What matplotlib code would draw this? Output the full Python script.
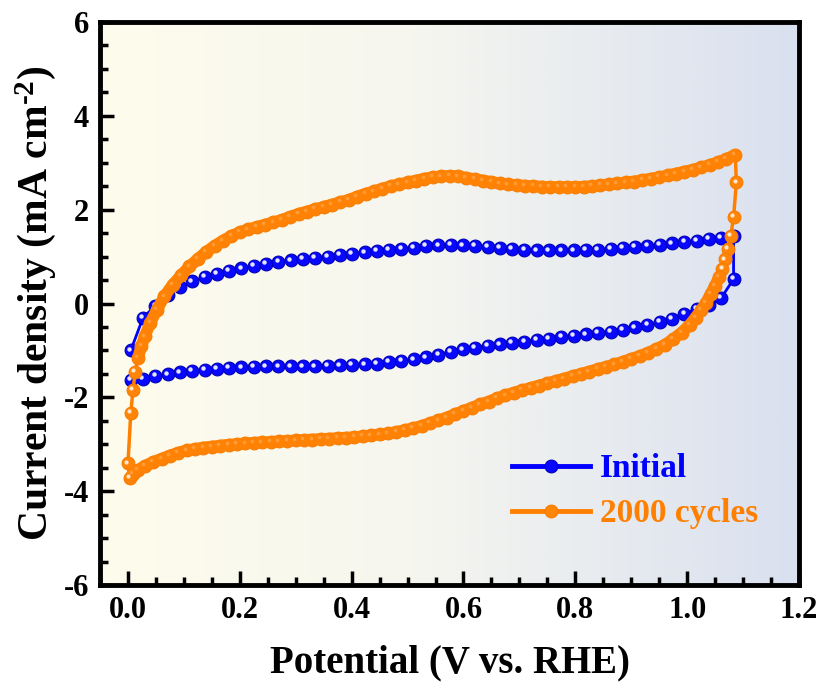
import matplotlib
matplotlib.use("Agg")
import matplotlib.pyplot as plt
import numpy as np
from matplotlib.colors import LinearSegmentedColormap
from matplotlib.transforms import ScaledTranslation
from matplotlib.ticker import MultipleLocator

# CV loops: potential (V vs. RHE) and current density (mA cm-2)
init_v = [0.005, 0.027, 0.049, 0.071, 0.093, 0.115, 0.137, 0.159, 0.181, 0.203,
          0.225, 0.247, 0.269, 0.291, 0.313, 0.335, 0.357, 0.379, 0.401, 0.423,
          0.445, 0.467, 0.489, 0.511, 0.533, 0.555, 0.577, 0.599, 0.621, 0.643,
          0.665, 0.687, 0.709, 0.731, 0.753, 0.775, 0.797, 0.819, 0.841, 0.863,
          0.885, 0.907, 0.929, 0.951, 0.973, 0.995, 1.017, 1.039, 1.061, 1.083,
          1.083, 1.061, 1.039, 1.017, 0.995, 0.973, 0.951, 0.929, 0.907, 0.885,
          0.863, 0.841, 0.819, 0.797, 0.775, 0.753, 0.731, 0.709, 0.687, 0.665,
          0.643, 0.621, 0.599, 0.577, 0.555, 0.533, 0.511, 0.489, 0.467, 0.445,
          0.423, 0.401, 0.379, 0.357, 0.335, 0.313, 0.291, 0.269, 0.247, 0.225,
          0.203, 0.181, 0.159, 0.137, 0.115, 0.093, 0.071, 0.049, 0.027, 0.005]
init_j = [-1.00, -0.30, -0.05, 0.18, 0.35, 0.47, 0.56, 0.63, 0.69, 0.75,
          0.80, 0.85, 0.89, 0.92, 0.95, 0.98, 1.00, 1.03, 1.06, 1.09,
          1.12, 1.15, 1.17, 1.19, 1.22, 1.24, 1.25, 1.24, 1.22, 1.20,
          1.18, 1.16, 1.14, 1.13, 1.13, 1.13, 1.13, 1.14, 1.15, 1.17,
          1.19, 1.21, 1.23, 1.25, 1.28, 1.31, 1.34, 1.37, 1.40, 1.44,
          0.52, 0.12, -0.03, -0.12, -0.22, -0.32, -0.40, -0.46, -0.51, -0.56,
          -0.60, -0.63, -0.66, -0.69, -0.72, -0.75, -0.78, -0.81, -0.84, -0.87,
          -0.90, -0.94, -0.98, -1.03, -1.09, -1.15, -1.19, -1.22, -1.25, -1.28,
          -1.30, -1.31, -1.32, -1.33, -1.34, -1.34, -1.34, -1.34, -1.34, -1.35,
          -1.36, -1.37, -1.39, -1.41, -1.44, -1.47, -1.51, -1.55, -1.60, -1.62]

cyc_v = [0.003, 0.000, 0.005, 0.009, 0.013, 0.018, 0.024, 0.030, 0.040, 0.052,
         0.065, 0.080, 0.095, 0.110, 0.125, 0.140, 0.155, 0.170, 0.185, 0.200,
         0.215, 0.230, 0.245, 0.260, 0.275, 0.290, 0.305, 0.320, 0.335, 0.350,
         0.365, 0.380, 0.395, 0.410, 0.425, 0.440, 0.455, 0.470, 0.485, 0.500,
         0.515, 0.530, 0.545, 0.560, 0.575, 0.590, 0.605, 0.620, 0.635, 0.650,
         0.665, 0.680, 0.695, 0.710, 0.725, 0.740, 0.755, 0.770, 0.785, 0.800,
         0.815, 0.830, 0.845, 0.860, 0.875, 0.890, 0.905, 0.920, 0.935, 0.950,
         0.965, 0.980, 0.995, 1.010, 1.025, 1.040, 1.055, 1.070, 1.086,
         1.088, 1.083, 1.078, 1.073, 1.068, 1.063, 1.057, 1.050, 1.042, 1.034,
         1.025, 1.015, 1.005, 0.990, 0.975, 0.960, 0.945, 0.930, 0.915, 0.900,
         0.885, 0.870, 0.855, 0.840, 0.825, 0.810, 0.795, 0.780, 0.765, 0.750,
         0.735, 0.720, 0.705, 0.690, 0.675, 0.660, 0.645, 0.630, 0.615, 0.600,
         0.585, 0.570, 0.555, 0.540, 0.525, 0.510, 0.495, 0.480, 0.465, 0.450,
         0.435, 0.420, 0.405, 0.390, 0.375, 0.360, 0.345, 0.330, 0.315, 0.300,
         0.285, 0.270, 0.255, 0.240, 0.225, 0.210, 0.195, 0.180, 0.165, 0.150,
         0.135, 0.120, 0.105, 0.090, 0.075, 0.060, 0.045, 0.030, 0.018, 0.009]
cyc_j = [-3.72, -3.41, -2.34, -1.84, -1.45, -1.16, -0.91, -0.70, -0.41, -0.13,
         0.15, 0.40, 0.60, 0.79, 0.95, 1.10, 1.23, 1.34, 1.44, 1.52,
         1.58, 1.63, 1.68, 1.73, 1.78, 1.85, 1.91, 1.96, 2.01, 2.06,
         2.11, 2.16, 2.21, 2.28, 2.34, 2.39, 2.45, 2.50, 2.54, 2.58,
         2.62, 2.66, 2.69, 2.71, 2.72, 2.71, 2.68, 2.65, 2.62, 2.59,
         2.56, 2.54, 2.52, 2.51, 2.50, 2.49, 2.48, 2.48, 2.48, 2.48,
         2.49, 2.50, 2.52, 2.54, 2.56, 2.58, 2.60, 2.63, 2.66, 2.69,
         2.73, 2.77, 2.81, 2.85, 2.90, 2.95, 3.01, 3.08, 3.17,
         2.58, 1.84, 1.44, 1.16, 0.94, 0.74, 0.56, 0.38, 0.20, 0.02,
         -0.14, -0.30, -0.45, -0.62, -0.76, -0.88, -0.97, -1.05, -1.12, -1.18,
         -1.24, -1.30, -1.35, -1.40, -1.45, -1.50, -1.55, -1.60, -1.65, -1.70,
         -1.75, -1.80, -1.85, -1.90, -1.96, -2.02, -2.09, -2.15, -2.22, -2.29,
         -2.36, -2.43, -2.49, -2.55, -2.61, -2.66, -2.70, -2.74, -2.77, -2.79,
         -2.81, -2.83, -2.85, -2.86, -2.87, -2.88, -2.89, -2.90, -2.91, -2.92,
         -2.93, -2.94, -2.95, -2.96, -2.97, -2.98, -3.00, -3.01, -3.03, -3.05,
         -3.07, -3.10, -3.13, -3.18, -3.24, -3.31, -3.38, -3.46, -3.55, -3.63]

labels = ['Initial', '2000 cycles']

plt.rcParams['font.family'] = ['Liberation Serif', 'DejaVu Serif']
plt.rcParams['font.weight'] = 'bold'
plt.rcParams['mathtext.fontset'] = 'custom'
plt.rcParams['mathtext.rm'] = 'Liberation Serif:bold'
plt.rcParams['mathtext.bf'] = 'Liberation Serif:bold'
plt.rcParams['mathtext.it'] = 'Liberation Serif:bold:italic'
plt.rcParams['axes.unicode_minus'] = False

fig = plt.figure(figsize=(8.19, 6.93), dpi=100)
ax = fig.add_axes([100 / 819, 108 / 693, 699 / 819, 563 / 693])

# yellow -> blue-grey wash behind the curves
bg = LinearSegmentedColormap.from_list('bg', [(0, '#FEFCEC'), (0.45, '#F6F6EF'), (1, '#D9E0EF')])
ax.imshow(np.linspace(0, 1, 256)[None, :], cmap=bg, aspect='auto',
          extent=[0, 1, 0, 1], transform=ax.transAxes, zorder=0)

# little glint on each marker to give a ball look
glint = ax.transData + ScaledTranslation(-1.3 / 72, 1.3 / 72, fig.dpi_scale_trans)

BLUE = '#0000FF'
ORANGE = '#FF8000'

l1, = ax.plot(init_v, init_j, '-', color=BLUE, lw=2, marker='o', ms=9.2,
              mfc='#0808FF', mec='#0000B8', mew=0.8, zorder=3)
ax.plot(init_v, init_j, ls='none', marker='o', ms=3.2, mfc='#E4E4FF',
        mec='none', transform=glint, zorder=4)

# after 2000 cycles the points are packed so tight they merge into a band
l2, = ax.plot(cyc_v, cyc_j, '-', color=ORANGE, lw=2.5, marker='o', ms=9.2,
              mfc='#FF8508', mec='#F77C00', mew=0.8, zorder=5)
ax.plot(cyc_v[5:79], cyc_j[5:79], '-', color='#FF8204', lw=8.5,
        solid_capstyle='round', zorder=5)
ax.plot(cyc_v[85:] + cyc_v[:1], cyc_j[85:] + cyc_j[:1], '-', color='#FF8204', lw=8.5,
        solid_capstyle='round', zorder=5)
ax.plot(cyc_v[5:79] + cyc_v[85:], cyc_j[5:79] + cyc_j[85:], ls='none', marker='o',
        ms=2.6, mfc='#FFD9B0', mec='none', alpha=0.3, transform=glint, zorder=6)
ax.plot(cyc_v[:5] + cyc_v[79:85], cyc_j[:5] + cyc_j[79:85], ls='none', marker='o',
        ms=3.0, mfc='#FFE6CC', mec='none', transform=glint, zorder=6)

ax.set_xlim(-0.05, 1.2)
ax.set_ylim(-6, 6)
ax.xaxis.set_major_locator(MultipleLocator(0.2))
ax.xaxis.set_minor_locator(MultipleLocator(0.05))
ax.yaxis.set_major_locator(MultipleLocator(2))
ax.yaxis.set_minor_locator(MultipleLocator(0.5))
ax.tick_params(which='both', direction='in', top=False, right=False, width=2.5,
               labelsize=22, pad=8)
ax.tick_params(which='major', length=10)
ax.tick_params(which='minor', length=6)
for s in ax.spines.values():
    s.set_linewidth(3.5)

ax.set_xlabel('Potential (V vs. RHE)', fontsize=28, fontweight='bold', labelpad=14)
ax.set_ylabel(r'Current density (mA cm$^{\text{-2}}$)', fontsize=30, fontweight='bold',
              labelpad=4)

leg = ax.legend([l1, l2], labels, loc='upper left', bbox_to_anchor=(0.589, 0.234),
                frameon=False, fontsize=24, handlelength=2.35, handletextpad=0.3,
                labelspacing=0.42, borderpad=0, borderaxespad=0)
for line in leg.get_lines():
    line.set_linewidth(3.5)
for txt, col in zip(leg.get_texts(), [BLUE, ORANGE]):
    txt.set_color(col)

fig.savefig('out.png', dpi=100)
